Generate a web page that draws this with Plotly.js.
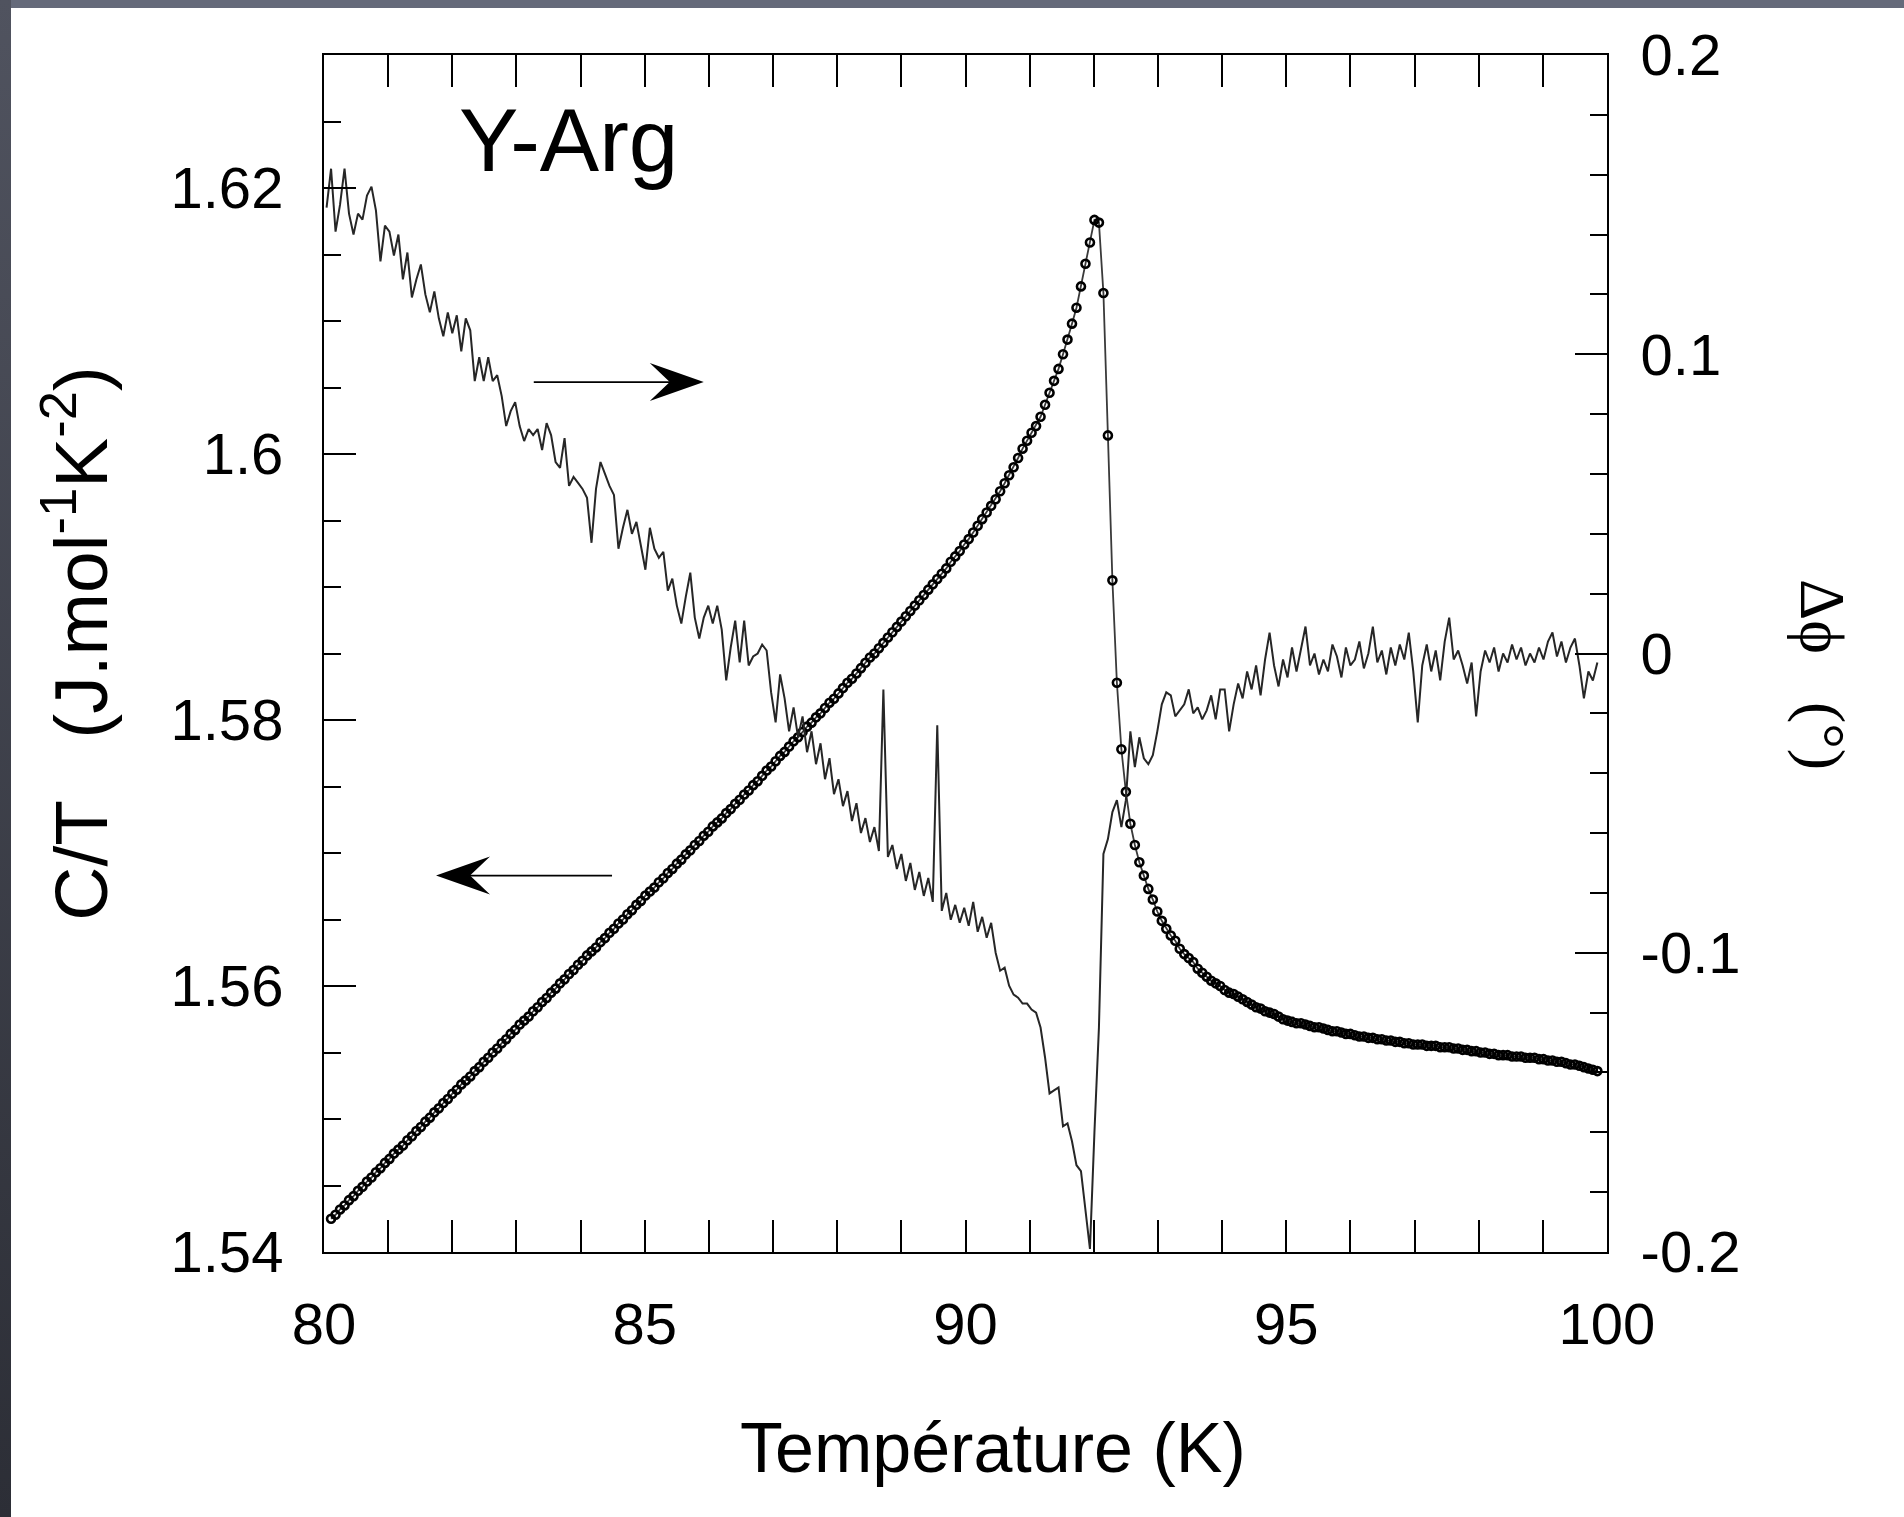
<!DOCTYPE html>
<html><head><meta charset="utf-8">
<script src="https://cdn.plot.ly/plotly-3.0.1.min.js"></script>
<style>
html,body{margin:0;padding:0;background:#fff;width:1904px;height:1517px;overflow:hidden;}
#topband{position:absolute;left:0;top:0;width:1904px;height:8px;background:#656a7a;}
#leftband{position:absolute;left:0;top:0;width:11px;height:1517px;background:linear-gradient(#50535f,#2c2e36);}
#chart{position:absolute;left:11px;top:8px;width:1893px;height:1509px;}
</style></head><body>
<div id="topband"></div><div id="leftband"></div><div id="chart"></div>
<script>
// Temperature (K) of each measurement
const temperature = [
80.04,80.11,80.18,80.25,80.32,80.39,80.46,80.53,80.60,80.67,
80.74,80.81,80.88,80.95,81.02,81.09,81.16,81.23,81.30,81.37,
81.44,81.51,81.58,81.65,81.72,81.79,81.86,81.93,82.00,82.07,
82.14,82.21,82.28,82.35,82.42,82.49,82.56,82.63,82.70,82.77,
82.84,82.91,82.98,83.05,83.12,83.19,83.26,83.33,83.40,83.47,
83.54,83.61,83.68,83.75,83.82,83.89,83.96,84.03,84.10,84.17,
84.24,84.31,84.38,84.45,84.52,84.59,84.66,84.73,84.80,84.87,
84.94,85.01,85.08,85.15,85.22,85.29,85.36,85.43,85.50,85.57,
85.64,85.71,85.78,85.85,85.92,85.99,86.06,86.13,86.20,86.27,
86.34,86.41,86.48,86.55,86.62,86.69,86.76,86.83,86.90,86.97,
87.04,87.11,87.18,87.25,87.32,87.39,87.46,87.53,87.60,87.67,
87.74,87.81,87.88,87.95,88.02,88.09,88.16,88.23,88.30,88.37,
88.44,88.51,88.58,88.65,88.72,88.79,88.86,88.93,89.00,89.07,
89.14,89.21,89.28,89.35,89.42,89.49,89.56,89.63,89.70,89.77,
89.84,89.91,89.98,90.05,90.12,90.19,90.26,90.33,90.40,90.47,
90.54,90.61,90.68,90.75,90.82,90.89,90.96,91.03,91.10,91.17,
91.24,91.31,91.38,91.45,91.52,91.59,91.66,91.73,91.80,91.87,
91.94,92.01,92.08,92.15,92.22,92.29,92.36,92.43,92.50,92.57,
92.64,92.71,92.78,92.85,92.92,92.99,93.06,93.13,93.20,93.27,
93.34,93.41,93.48,93.55,93.62,93.69,93.76,93.83,93.90,93.97,
94.04,94.11,94.18,94.25,94.32,94.39,94.46,94.53,94.60,94.67,
94.74,94.81,94.88,94.95,95.02,95.09,95.16,95.23,95.30,95.37,
95.44,95.51,95.58,95.65,95.72,95.79,95.86,95.93,96.00,96.07,
96.14,96.21,96.28,96.35,96.42,96.49,96.56,96.63,96.70,96.77,
96.84,96.91,96.98,97.05,97.12,97.19,97.26,97.33,97.40,97.47,
97.54,97.61,97.68,97.75,97.82,97.89,97.96,98.03,98.10,98.17,
98.24,98.31,98.38,98.45,98.52,98.59,98.66,98.73,98.80,98.87,
98.94,99.01,99.08,99.15,99.22,99.29,99.36,99.43,99.50,99.57,
99.64,99.71,99.78,99.85];

// C/T (J.mol-1K-2), left axis
const heatCapacityOverT = [
null,1.5425,1.5428,1.5432,1.5435,1.5439,1.5442,1.5446,1.5449,1.5453,
1.5456,1.5460,1.5463,1.5467,1.5470,1.5474,1.5477,1.5480,1.5484,1.5487,
1.5491,1.5494,1.5498,1.5501,1.5505,1.5508,1.5512,1.5515,1.5519,1.5522,
1.5526,1.5529,1.5532,1.5536,1.5539,1.5543,1.5546,1.5550,1.5553,1.5557,
1.5560,1.5564,1.5567,1.5571,1.5574,1.5577,1.5581,1.5584,1.5588,1.5591,
1.5595,1.5598,1.5602,1.5605,1.5609,1.5612,1.5616,1.5619,1.5623,1.5626,
1.5629,1.5633,1.5636,1.5640,1.5643,1.5647,1.5650,1.5654,1.5657,1.5661,
1.5664,1.5668,1.5671,1.5674,1.5678,1.5681,1.5685,1.5688,1.5692,1.5695,
1.5699,1.5702,1.5706,1.5709,1.5713,1.5716,1.5720,1.5723,1.5726,1.5730,
1.5733,1.5737,1.5740,1.5744,1.5747,1.5751,1.5754,1.5758,1.5762,1.5765,
1.5769,1.5773,1.5776,1.5780,1.5784,1.5787,1.5791,1.5795,1.5798,1.5802,
1.5805,1.5809,1.5813,1.5816,1.5820,1.5824,1.5828,1.5831,1.5835,1.5839,
1.5843,1.5847,1.5850,1.5854,1.5858,1.5862,1.5866,1.5870,1.5874,1.5878,
1.5882,1.5886,1.5890,1.5894,1.5898,1.5902,1.5906,1.5910,1.5914,1.5919,
1.5923,1.5927,1.5932,1.5936,1.5941,1.5946,1.5951,1.5956,1.5961,1.5966,
1.5972,1.5978,1.5984,1.5990,1.5997,1.6004,1.6010,1.6016,1.6021,1.6028,
1.6037,1.6046,1.6055,1.6064,1.6075,1.6086,1.6098,1.6110,1.6126,1.6143,
1.6159,1.6176,1.6174,1.6121,1.6014,1.5905,1.5828,1.5778,1.5746,1.5722,
1.5706,1.5693,1.5683,1.5673,1.5665,1.5656,1.5649,1.5643,1.5638,1.5634,
1.5628,1.5624,1.5621,1.5618,1.5613,1.5610,1.5607,1.5604,1.5602,1.5600,
1.5597,1.5595,1.5594,1.5592,1.5590,1.5588,1.5586,1.5584,1.5583,1.5581,
1.5580,1.5579,1.5577,1.5575,1.5574,1.5573,1.5572,1.5572,1.5571,1.5570,
1.5569,1.5569,1.5568,1.5567,1.5566,1.5566,1.5565,1.5564,1.5564,1.5563,
1.5562,1.5562,1.5561,1.5561,1.5560,1.5560,1.5559,1.5559,1.5558,1.5558,
1.5557,1.5557,1.5556,1.5556,1.5556,1.5555,1.5555,1.5555,1.5554,1.5554,
1.5554,1.5553,1.5553,1.5552,1.5552,1.5551,1.5551,1.5550,1.5550,1.5549,
1.5549,1.5548,1.5548,1.5548,1.5547,1.5547,1.5547,1.5546,1.5546,1.5546,
1.5545,1.5545,1.5544,1.5544,1.5543,1.5543,1.5542,1.5541,1.5541,1.5540,
1.5539,1.5538,1.5537,1.5536];

// Delta phi (degrees), right axis
const phaseShift = [
0.149,0.162,0.141,0.150,0.162,0.147,0.140,0.147,0.145,0.153,
0.156,0.148,0.131,0.143,0.141,0.133,0.140,0.125,0.134,0.119,
0.125,0.130,0.120,0.114,0.121,0.112,0.106,0.114,0.107,0.113,
0.101,0.112,0.108,0.091,0.099,0.091,0.099,0.091,0.093,0.086,
0.076,0.081,0.084,0.076,0.071,0.075,0.073,0.075,0.068,0.077,
0.073,0.064,0.062,0.072,0.056,0.059,0.057,0.055,0.052,0.037,
0.055,0.064,0.060,0.056,0.053,0.035,0.042,0.048,0.040,0.044,
0.036,0.028,0.042,0.035,0.032,0.034,0.021,0.025,0.016,0.010,
0.019,0.027,0.012,0.005,0.012,0.016,0.010,0.016,0.008,-0.009,
0.002,0.011,-0.003,0.011,-0.004,-0.001,0.000,0.003,0.001,-0.013,
-0.023,-0.007,-0.015,-0.026,-0.018,-0.028,-0.021,-0.033,-0.026,-0.037,
-0.030,-0.042,-0.035,-0.047,-0.042,-0.051,-0.046,-0.056,-0.050,-0.060,
-0.055,-0.063,-0.058,-0.066,-0.012,-0.068,-0.064,-0.072,-0.067,-0.076,
-0.070,-0.079,-0.073,-0.081,-0.075,-0.083,-0.024,-0.086,-0.080,-0.089,
-0.084,-0.090,-0.085,-0.091,-0.083,-0.093,-0.088,-0.095,-0.090,-0.100,
-0.106,-0.105,-0.111,-0.114,-0.115,-0.117,-0.117,-0.119,-0.120,-0.125,
-0.135,-0.147,-0.146,-0.145,-0.158,-0.157,-0.163,-0.171,-0.173,-0.186,
-0.199,-0.160,-0.125,-0.067,-0.062,-0.053,-0.049,-0.058,-0.049,-0.026,
-0.038,-0.028,-0.035,-0.037,-0.034,-0.026,-0.017,-0.013,-0.014,-0.021,
-0.019,-0.017,-0.012,-0.020,-0.018,-0.022,-0.019,-0.014,-0.022,-0.012,
-0.012,-0.026,-0.017,-0.010,-0.015,-0.006,-0.012,-0.004,-0.014,-0.002,
0.007,-0.004,-0.011,-0.002,-0.008,0.002,-0.006,0.001,0.009,-0.004,
0.000,-0.007,-0.002,-0.006,0.003,-0.001,-0.008,0.002,-0.004,-0.002,
0.004,-0.005,0.000,0.009,-0.003,0.001,-0.007,0.002,-0.004,0.003,
-0.002,0.007,-0.006,-0.023,-0.004,0.003,-0.006,0.001,-0.009,0.004,
0.012,-0.002,0.001,-0.004,-0.010,-0.003,-0.021,-0.006,0.001,-0.003,
0.002,-0.006,0.000,-0.003,0.003,-0.002,0.002,-0.004,0.000,-0.003,
0.002,-0.002,0.004,0.007,-0.001,0.004,-0.003,0.002,0.005,-0.004,
-0.015,-0.006,-0.009,-0.003];

const xTickVals = [80, 85, 90, 95, 100];
const xTickText = ['80', '85', '90', '95', '100'];
const leftTickVals = [1.54, 1.56, 1.58, 1.60, 1.62];
const leftTickText = ['1.54', '1.56', '1.58', '1.6', '1.62'];
const rightTickVals = [-0.2, -0.1, 0, 0.1, 0.2];
const rightTickText = ['-0.2', '-0.1', '0', '0.1', '0.2'];

const FONT = 'Liberation Sans, Arial, Helvetica, sans-serif';

const traces = [
  {
    x: temperature, y: phaseShift, yaxis: 'y2', type: 'scatter', mode: 'lines',
    line: {color: '#262626', width: 2}, hoverinfo: 'skip', showlegend: false
  },
  {
    x: temperature, y: heatCapacityOverT, yaxis: 'y', type: 'scatter', mode: 'lines+markers',
    line: {color: '#3a3a3a', width: 1.8},
    marker: {symbol: 'circle-open', size: 8, color: '#000', line: {width: 2.6, color: '#000'}},
    hoverinfo: 'skip', showlegend: false
  }
];

const axisCommon = {
  showline: true, linecolor: '#000', linewidth: 2, zeroline: false, showgrid: false,
  ticks: 'inside', tickcolor: '#000', tickwidth: 2, ticklen: 32,
  tickfont: {family: FONT, size: 58, color: '#000'}
};

const layout = {
  width: 1893, height: 1509,
  margin: {l: 313, r: 297, t: 47, b: 265, pad: 0},
  paper_bgcolor: '#fff', plot_bgcolor: '#fff',
  showlegend: false,
  font: {family: FONT, color: '#000'},
  xaxis: Object.assign({}, axisCommon, {
    range: [80, 100], tickmode: 'array', tickvals: xTickVals, ticktext: xTickText,
    mirror: 'allticks', ticklabelstandoff: 20,
    minor: {tickmode: 'linear', tick0: 80, dtick: 1, ticks: 'inside', ticklen: 17, tickwidth: 2, tickcolor: '#000'}
  }),
  yaxis: Object.assign({}, axisCommon, {
    range: [1.54, 1.63], tickmode: 'array', tickvals: leftTickVals, ticktext: leftTickText,
    mirror: false, ticklabelstandoff: 27,
    minor: {tickmode: 'linear', tick0: 1.54, dtick: 0.005, ticks: 'inside', ticklen: 17, tickwidth: 2, tickcolor: '#000'}
  }),
  yaxis2: Object.assign({}, axisCommon, {
    range: [-0.2, 0.2], overlaying: 'y', side: 'right', anchor: 'x',
    tickmode: 'array', tickvals: rightTickVals, ticktext: rightTickText,
    ticklabelstandoff: 20,
    minor: {tickmode: 'linear', tick0: -0.2, dtick: 0.02, ticks: 'inside', ticklen: 17, tickwidth: 2, tickcolor: '#000'}
  }),
  annotations: [
    {xref: 'paper', yref: 'paper', x: 0.5214, y: -0.1637, xanchor: 'center', yanchor: 'middle',
     text: 'Température (K)', showarrow: false, font: {family: FONT, size: 70, color: '#000'}},
    {xref: 'paper', yref: 'paper', x: -0.1935, y: 0.5088, xanchor: 'center', yanchor: 'middle',
     text: 'C/T   (J.mol<sup>-1</sup>K<sup>-2</sup>)', textangle: -90, showarrow: false,
     font: {family: FONT, size: 75, color: '#000'}},
    {xref: 'paper', yref: 'paper', x: 0.1902, y: 0.929, xanchor: 'center', yanchor: 'middle',
     text: 'Y-Arg', showarrow: false, font: {family: FONT, size: 89, color: '#000'}},
    {xref: 'paper', yref: 'paper', x: 1.1683, y: 0.482, xanchor: 'center', yanchor: 'middle',
     text: 'Δϕ   (°)', textangle: 90, showarrow: false,
     font: {family: 'Liberation Serif, DejaVu Serif, serif', size: 64, color: '#000'}}
  ],
  shapes: [
    // arrow pointing to the right axis (delta phi)
    {type: 'line', xref: 'x', yref: 'y2', x0: 83.27, x1: 85.6, y0: 0.0907, y1: 0.0907, line: {color: '#000', width: 1.6}},
    {type: 'path', xref: 'x', yref: 'y2', xsizemode: 'pixel', ysizemode: 'pixel', xanchor: 85.92, yanchor: 0.0907,
     path: 'M0,0 L-54,19 L-34,0 L-54,-19 Z', fillcolor: '#000', line: {width: 0}},
    // arrow pointing to the left axis (C/T)
    {type: 'line', xref: 'x', yref: 'y', x0: 84.49, x1: 82.1, y0: 1.5683, y1: 1.5683, line: {color: '#000', width: 1.6}},
    {type: 'path', xref: 'x', yref: 'y', xsizemode: 'pixel', ysizemode: 'pixel', xanchor: 81.746, yanchor: 1.5683,
     path: 'M0,0 L54,19 L34,0 L54,-19 Z', fillcolor: '#000', line: {width: 0}}
  ]
};

Plotly.newPlot('chart', traces, layout, {displayModeBar: false, staticPlot: true});
</script>
</body></html>
